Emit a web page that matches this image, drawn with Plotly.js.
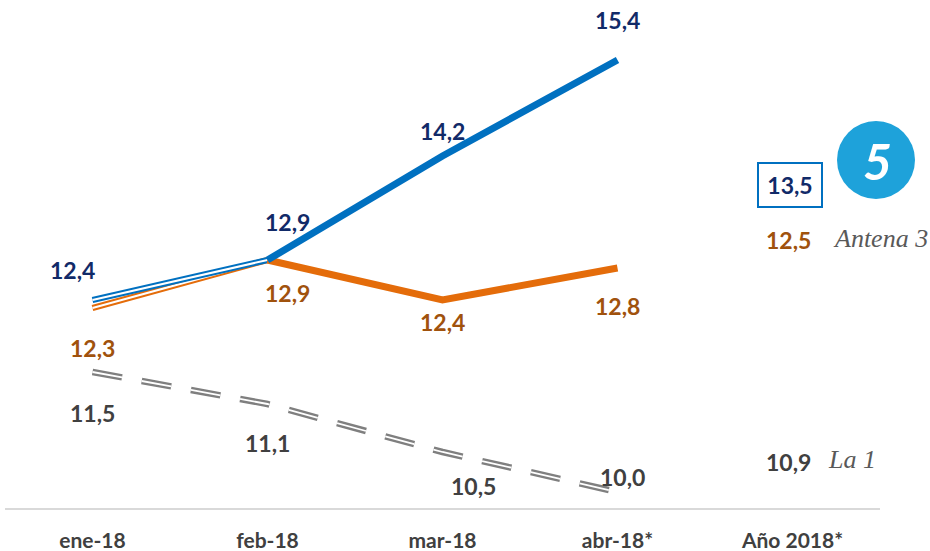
<!DOCTYPE html>
<html>
<head>
<meta charset="utf-8">
<script src="https://cdn.plot.ly/plotly-3.0.1.min.js"></script>
<style>html,body{margin:0;padding:0;background:#fff;}#chart{width:930px;height:551px;}</style>
</head>
<body>
<div id="chart"></div>
<script>
const months = ['ene-18', 'feb-18', 'mar-18', 'abr-18*', 'Año 2018*'];
const telecinco = [12.4, 12.9, 14.2, 15.4];
const antena3 = [12.3, 12.9, 12.4, 12.8];
const la1 = [11.5, 11.1, 10.5, 10.0];
const annual = { telecinco: 13.5, antena3: 12.5, la1: 10.9 };
const channelNames = ['Antena 3', 'La 1'];

const BLUE = '#0070c0', ORANGE = '#e46c0a', GRAY = '#7f7f7f';
const BLUE_TXT = '#112a68', ORANGE_TXT = '#a0520d', GRAY_TXT = '#404040';
const fmt = v => v.toFixed(1).replace('.', ',');
const M = months.slice(0, 4);

const traces = [
  {x: M, y: la1, mode: 'lines', line: {color: GRAY, width: 6.5, dash: '30px,20px'}, hoverinfo: 'skip'},
  {x: M, y: la1, mode: 'lines', line: {color: '#fff', width: 1.8, dash: '30px,20px'}, hoverinfo: 'skip'},
  {x: M.slice(0, 2), y: antena3.slice(0, 2), mode: 'lines', line: {color: ORANGE, width: 6}, hoverinfo: 'skip'},
  {x: M.slice(0, 2), y: antena3.slice(0, 2), mode: 'lines', line: {color: '#fff', width: 2}, hoverinfo: 'skip'},
  {x: M.slice(0, 2), y: telecinco.slice(0, 2), mode: 'lines', line: {color: BLUE, width: 6}, hoverinfo: 'skip'},
  {x: M.slice(0, 2), y: telecinco.slice(0, 2), mode: 'lines', line: {color: '#fff', width: 2}, hoverinfo: 'skip'},
  {x: M.slice(1), y: antena3.slice(1), mode: 'lines', line: {color: ORANGE, width: 7}, hoverinfo: 'skip'},
  {x: M.slice(1), y: telecinco.slice(1), mode: 'lines', line: {color: BLUE, width: 7}, hoverinfo: 'skip'}
];

const FONT = 'Lato, "Open Sans", sans-serif';
const LSIZE = 23;
const lab = (x, y, v, color, xs, ys) => ({
  x: x, y: y, xref: 'x', yref: 'y', text: '<b>' + fmt(v) + '</b>', showarrow: false,
  xanchor: 'center', yanchor: 'middle',
  xshift: xs, yshift: ys, font: {family: FONT, size: LSIZE, color: color}
});
const blueOff = [[-20, 30], [20, 38], [0, 25], [0, 40]];
const orangeOff = [[0, -40], [20, -33], [0, -22], [0, -38]];
const grayOff = [[0, -41], [0, -39], [31, -34], [5, 15]];

const annotations = [];
M.forEach((m, i) => {
  annotations.push(lab(m, telecinco[i], telecinco[i], BLUE_TXT, blueOff[i][0], blueOff[i][1]));
  annotations.push(lab(m, antena3[i], antena3[i], ORANGE_TXT, orangeOff[i][0], orangeOff[i][1]));
  annotations.push(lab(m, la1[i], la1[i], GRAY_TXT, grayOff[i][0], grayOff[i][1]));
});

// pixel -> paper helpers (plot area x 5..880, y 0..508)
const px = x => (x - 5) / 875;
const py = y => 1 - y / 508;
const pAnn = (x, y, text, font, extra) => Object.assign({
  x: px(x), y: py(y), xref: 'paper', yref: 'paper', text: text, showarrow: false,
  xanchor: 'center', yanchor: 'middle', font: font
}, extra || {});

annotations.push(pAnn(790, 185, '<b>' + fmt(annual.telecinco) + '</b>', {family: FONT, size: LSIZE, color: BLUE_TXT},
  {bordercolor: BLUE, borderwidth: 2, width: 60, height: 40, borderpad: 1, bgcolor: '#fff'}));
annotations.push(pAnn(788, 240, '<b>' + fmt(annual.antena3) + '</b>', {family: FONT, size: LSIZE, color: ORANGE_TXT}));
annotations.push(pAnn(788, 462, '<b>' + fmt(annual.la1) + '</b>', {family: FONT, size: LSIZE, color: GRAY_TXT}));
annotations.push(pAnn(831, 238, '<i>' + channelNames[0] + '</i>', {family: '"Liberation Serif", serif', size: 26, color: '#595959'}, {xanchor: 'left'}));
annotations.push(pAnn(826, 459, '<i>' + channelNames[1] + '</i>', {family: '"Liberation Serif", serif', size: 26, color: '#595959'}, {xanchor: 'left'}));
// logo glyph
annotations.push(pAnn(877, 161, '<b><i>5</i></b>', {family: FONT, size: 50, color: '#fff'}));

const shapes = [{
  type: 'circle', xref: 'paper', yref: 'paper',
  x0: px(837), x1: px(915), y0: py(199), y1: py(121),
  fillcolor: '#1ea2da', line: {width: 0}
}];

const layout = {
  width: 930, height: 551,
  margin: {l: 5, r: 50, t: 0, b: 43},
  paper_bgcolor: '#fff', plot_bgcolor: '#fff',
  showlegend: false,
  xaxis: {
    type: 'category', categoryarray: months, categoryorder: 'array', range: [-0.5, 4.5],
    showgrid: false, zeroline: false, showline: true, linecolor: '#d9d9d9', linewidth: 2,
    ticks: '', ticklabelstandoff: 13,
    tickfont: {family: FONT, size: 21, color: GRAY_TXT, weight: 'bold'}
  },
  yaxis: {range: [9.8, 16.15], showgrid: false, zeroline: false, showticklabels: false, showline: false},
  annotations: annotations,
  shapes: shapes
};

Plotly.newPlot('chart', traces, layout, {displayModeBar: false, staticPlot: true});
</script>
</body>
</html>
